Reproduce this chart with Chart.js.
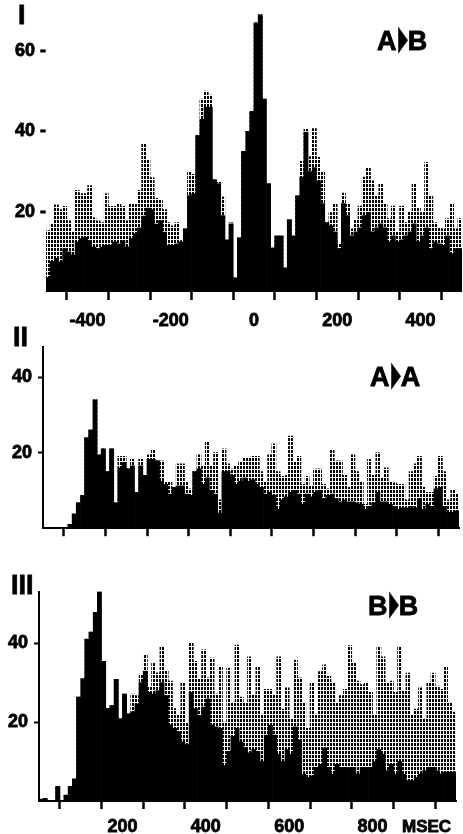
<!DOCTYPE html>
<html><head><meta charset="utf-8">
<script src="https://cdn.jsdelivr.net/npm/chart.js@4/dist/chart.umd.min.js"></script>
<style>
html,body{margin:0;padding:0;background:#fff;}
#wrap{position:relative;width:463px;height:834px;overflow:hidden;background:#fff;}
canvas{position:absolute;left:0;}
.lbl{position:absolute;font-family:'Liberation Sans',Arial,sans-serif;font-weight:bold;color:#000;white-space:nowrap;-webkit-text-stroke:0.8px #000;}
.big{font-size:27px;line-height:27px;}
.arr{display:inline-block;font-family:'DejaVu Sans',sans-serif;font-size:34px;line-height:20px;transform:scaleX(0.36);margin:0 -8px 0 -7px;vertical-align:1px;}
</style></head><body>
<div id="wrap">
<canvas id="c1" width="463" height="335" style="top:0"></canvas>
<canvas id="c2" width="463" height="215" style="top:330px"></canvas>
<canvas id="c3" width="463" height="259" style="top:575px"></canvas>
<div class="lbl big" style="left:18px;top:2px">I</div>
<div class="lbl big" style="left:13px;top:324px">II</div>
<div class="lbl big" style="left:11px;top:572px">III</div>
<div class="lbl big" style="left:377px;top:27px">A<span class="arr">▶</span>B</div>
<div class="lbl big" style="left:370px;top:363px">A<span class="arr">▶</span>A</div>
<div class="lbl big" style="left:368px;top:592px">B<span class="arr">▶</span>B</div>
<div class="lbl" style="left:402px;top:818px;font-size:17px;line-height:17px">MSEC</div>
</div>
<script>
// ---- data (10 ms bins) ----
const binWidth = 10;
const binsI = Array.from({length:100}, (_, i) => -500 + binWidth*i + binWidth/2);   // A->B cross-correlogram bins (ms)
const binsII = Array.from({length:100}, (_, i) => binWidth*i + binWidth/2);         // autocorrelogram bins (ms)
const binsIII = binsII;

// Panel I  A->B : solid histogram and dotted histogram
const solidI = [3.6,7.6,8.4,7.5,10.8,10,9.2,12.4,13.3,13.7,
  12.8,11.2,10.8,11.2,11.6,11.6,12.4,12,12.8,11.2,
  13.3,14.5,16,18.9,20.9,20.5,16.9,17.7,14.9,11.6,
  11.6,12,12.4,15.7,24,24.5,39,43,46,46,
  28,27,19,13,17,3.5,13.5,35,40,45,
  67,69,48,27,11,14,14,6,18,14,
  24,28.6,39.8,30,31,27.7,22,17.3,16.5,15,
  10.8,22,19,14,15,16,19,19.8,15,16,
  17,16,12.5,14,12.5,13,14,15,17,12.5,
  14,16,10.8,12.5,12,11.6,14,9.5,10.8,10.8];
const dottedI = [15.3,16.9,21.7,20.5,21.3,17.7,15,25.3,24.5,24.5,
  26.5,18.5,17.7,17.3,24.5,21.3,21.3,22,21.3,17.7,
  22,22,25.3,37,33,28.5,23.3,23,20.5,17.3,
  16.5,17.3,12.8,15.7,30,29.3,39,48,50,49,
  28,27.3,23.7,13,17.3,3.5,13.5,35,40,45,
  67,69,48,27,11,14,14,6,18,14,
  24,32.5,40.5,33.7,40.7,33.5,29.8,17.3,19.8,22,
  12,24.6,22,15.7,18,21.4,28.6,31,27.7,24,
  27,22,18.3,21.4,15,21.4,17.3,20,27,21,
  19.8,32.3,24,17.3,16,15.7,18.3,22,15.7,18.3];

// Panel II  A->A
const solidII = [0,0,0,0,0,0,1,3.8,6.7,8.7,
  24,26,34,19.4,21,15,21,6.7,16,17.4,
  15.7,16.5,9.5,16.5,14,18.2,18.2,17.8,12.4,11.6,
  9,10.8,11.2,11.2,9,8.7,15,15.7,11.6,13.3,
  10,9,4,15,15,14,11.6,12.4,13.3,12.4,
  12.8,11.6,10.8,9,9.5,8.7,5,7.5,8.3,9.5,
  10,9,6.3,9,8.3,9.5,10,7.9,8.7,9,
  7.9,7,7.5,7,7,6.7,6.3,5,5.8,6.7,
  9.5,7,7,6.3,5.8,5,5.4,5.4,5.8,5.4,
  7.9,5,6.3,5.8,10.4,10.8,5.8,4.2,4.2,4.6];
const dottedII = [0,0,0,0,0,0,1,3.8,6.7,8.7,
  24,26,34,19.4,21,15,21,6.7,19,19,
  15.7,18.2,9.5,18.2,14,19.4,20.6,17.8,17.8,12.4,
  12.4,10.8,17,17,12.4,10.4,15,19.4,16.5,23,
  16.5,20,7.5,21,17,15.7,16.5,17.4,18.6,18.6,
  19,19,15,12.4,19.4,22.3,15,13.7,14,24.4,
  17.4,19,11.6,13.7,11.2,15.7,15.7,11.6,10.4,20.6,
  17.8,17.8,14,10.8,19.4,15,12.4,6.3,18.2,14,
  20,13.3,16,12.4,12,11.6,11.6,7.5,15,17,
  19,10.8,9.5,9.5,13.7,19,15,7.5,10,9.1];

// Panel III  B->B
const solidIII = [0.5,0.7,0,0,3.7,0,1.5,3.7,5.6,26.3,
  31,41,42.8,47.8,53.3,35.4,23.4,24.2,30.8,20.9,
  27.1,22.1,22.6,24.6,30,32.9,27.5,27.1,28,30,
  26.7,19.3,18.4,17.6,15,14.3,27.5,23.4,21.7,23.8,
  25.9,19.3,18.8,18.4,9,12.6,16.4,18.4,15,13.5,
  12.2,13,12.6,10,16.7,19.2,16.7,11.8,10,13,
  11.8,18.8,15.5,6.8,6,6.4,8.5,9.3,13.4,8.5,
  6.8,9.3,8.5,8.5,8.5,8.5,6.8,8.5,8.5,8.5,
  10,13,11.8,7.7,9.3,6.8,10,6.8,5.2,5.2,
  6,6.8,7.7,8.5,8.5,7.7,6.8,7.3,7.3,7.3];
const dottedIII = [0.5,0.7,0,0,3.7,0,1.5,3.7,5.6,26.3,
  31,41,42.8,47.8,53.3,35.4,23.4,24.2,30.8,20.9,
  27.1,22.1,27.1,26.7,32,37,29,35,32.5,39,
  32.9,30.4,23.4,21.7,30,19.7,40,35.4,30.8,38.3,
  31.2,36.2,27.1,34.1,20,33.7,25,39.5,26.3,25,
  36.5,27,34,22,28.3,28.3,27,36.5,23.3,28.7,
  20.9,35.7,31.2,25,18.4,30,22,32.8,34.5,31.6,
  30,25,26.7,28.3,39.4,35,30.4,29.5,30,27.5,
  21.7,39,36.5,30,30.4,27.5,39,27.9,32.4,21.7,
  23.3,28.7,20.9,30,32.4,29.1,28.3,34,25,22.5];

// tick labels
const xTickLabelsI = [-400,-200,0,200,400];
const yTickLabelsI = [20,40,60];
const yTickLabelsII = [20,40];
const xTickLabelsIII = [200,400,600,800];
const yTickLabelsIII = [20,40];

// ---- drawing ----
const FONT = "'Liberation Sans', Arial, sans-serif";
function dotPattern(){
  const c = document.createElement('canvas'); c.width = 3; c.height = 4;
  const g = c.getContext('2d'); g.fillStyle = '#000'; g.fillRect(0,0,2,3);
  return g.createPattern(c, 'repeat');
}
const pat = dotPattern();

function makeChart(id, cfg){
  const ds = (vals, bins, color, order) => ({
    data: vals.map((v,i)=>({x:bins[i], y:v})),
    backgroundColor: color, borderWidth: 0,
    barPercentage: 1, categoryPercentage: 1, grouped: false, order: order
  });
  const tickFont = { family: FONT, size: 18, weight: 'bold' };
  new Chart(document.getElementById(id), {
    type: 'bar',
    data: { datasets: [ ds(cfg.solid, cfg.bins, '#000', 1), ds(cfg.dotted, cfg.bins, pat, 2) ] },
    options: {
      responsive: false, animation: false, devicePixelRatio: 1,
      layout: { padding: cfg.padding, autoPadding: false },
      plugins: { legend: {display:false}, tooltip: {enabled:false} },
      scales: {
        x: {
          type: 'linear', min: cfg.xmin, max: cfg.xmax, offset: false,
          afterFit: s => { s.height = cfg.xh; },
          afterBuildTicks: s => { s.ticks = cfg.xticks.map(v=>({value:v})); },
          grid: { display: true, drawOnChartArea: false, drawTicks: true, tickLength: 8, tickWidth: 2.5, tickColor: '#000' },
          border: { display: cfg.xborder, color: '#000', width: 2 },
          ticks: { autoSkip: false, maxRotation: 0, padding: cfg.xpad, color: '#000', font: tickFont,
                   textStrokeColor: '#000', textStrokeWidth: 0.8,
                   callback: v => cfg.xlabels.includes(v) ? String(v) : '' }
        },
        y: {
          min: 0, max: cfg.ymax,
          afterFit: s => { s.width = cfg.yw; },
          afterBuildTicks: s => { s.ticks = cfg.ylabels.map(v=>({value:v})); },
          grid: cfg.yborder ? { display: true, drawOnChartArea: false, drawTicks: true, tickLength: 5, tickWidth: 2, tickColor: '#000' }
                            : { display: false, drawTicks: false },
          border: { display: cfg.yborder, color: '#000', width: 2 },
          ticks: { padding: cfg.ypad, color: '#000', font: tickFont,
                   textStrokeColor: '#000', textStrokeWidth: 0.8,
                   callback: v => cfg.ysuffix ? v + ' -' : String(v) }
        }
      }
    }
  });
}

const hundreds = (a,b) => { const r=[]; for (let v=a; v<=b; v+=100) r.push(v); return r; };

makeChart('c1', { bins: binsI, solid: solidI, dotted: dottedI, xmin: -500, xmax: 500, ymax: 70,
  padding: {top:2, right:1, left:0, bottom:0}, xh: 43, yw: 46, xpad: 10, ypad: 0,
  xticks: hundreds(-400,400), xlabels: xTickLabelsI, ylabels: yTickLabelsI, ysuffix: true,
  xborder: false, yborder: false });
makeChart('c2', { bins: binsII, solid: solidII, dotted: dottedII, xmin: 0, xmax: 1000, ymax: 48,
  padding: {top:12, right:4, left:0, bottom:0}, xh: 8, yw: 43, xpad: 4, ypad: 6,
  xticks: hundreds(100,900), xlabels: [], ylabels: yTickLabelsII, ysuffix: false,
  xborder: true, yborder: true });
makeChart('c3', { bins: binsIII, solid: solidIII, dotted: dottedIII, xmin: 0, xmax: 1000, ymax: 53,
  padding: {top:12, right:7, left:0, bottom:0}, xh: 33, yw: 39, xpad: 7, ypad: 6,
  xticks: hundreds(100,900), xlabels: xTickLabelsIII, ylabels: yTickLabelsIII, ysuffix: false,
  xborder: true, yborder: true });
</script>
</body></html>
